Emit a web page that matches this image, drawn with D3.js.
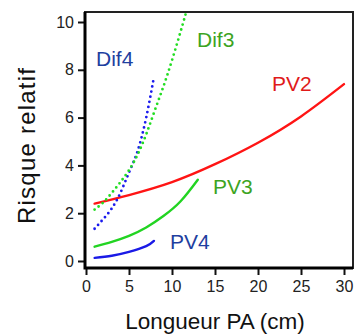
<!DOCTYPE html>
<html>
<head>
<meta charset="utf-8">
<script src="https://cdn.jsdelivr.net/npm/d3@7"></script>
<style>
  body { margin: 0; background: #fff; }
  text { font-family: 'Liberation Sans', Arial, sans-serif; }
</style>
</head>
<body>
<div id="chart"></div>
<script>
var width = 356, height = 334

// values: [longueur PA (cm), risque relatif]
var pv2 = [[1, 2.4], [5, 2.76], [10, 3.3], [15, 4.05], [20, 4.95], [25, 6.05], [30, 7.4]]
var pv3 = [[1, 0.6], [3, 0.8], [5, 1.05], [7, 1.4], [9, 1.88], [11, 2.5], [13, 3.4]]
var pv4 = [[1, 0.13], [3, 0.22], [5, 0.38], [7, 0.62], [7.9, 0.84]]
var dif4 = [[1, 1.35], [2, 1.75], [3, 2.2], [4, 2.85], [5, 3.7], [6, 4.6], [7, 6.0], [7.9, 7.7]]
var dif3 = [[1, 2.15], [2, 2.45], [3, 2.85], [4, 3.3], [5, 3.8], [6, 4.45], [7, 5.3], [8, 6.3], [9, 7.3], [10, 8.4], [11, 9.6], [11.6, 10.35]]

var xTicks = [0, 5, 10, 15, 20, 25, 30]
var yTicks = [0, 2, 4, 6, 8, 10]

var series = [
    { name: 'PV2', data: pv2, color: '#ff1414', text: '#e01a1a', dotted: false, lx: 272, ly: 91 },
    { name: 'PV3', data: pv3, color: '#22d422', text: '#3da41f', dotted: false, lx: 213, ly: 194 },
    { name: 'PV4', data: pv4, color: '#1a1ae6', text: '#1f3fa0', dotted: false, lx: 170, ly: 249 },
    { name: 'Dif4', data: dif4, color: '#1a1aee', text: '#1f3fa0', dotted: true, lx: 96, ly: 66 },
    { name: 'Dif3', data: dif3, color: '#22dd22', text: '#3da41f', dotted: true, lx: 197, ly: 47 }
]

var x = d3.scaleLinear().domain([0, 30]).range([86, 344])
var y = d3.scaleLinear().domain([0, 10]).range([261, 22])

var frame = { left: 85, right: 353, top: 12, bottom: 268 }

var svg = d3.select('#chart').append('svg')
    .attr('width', width)
    .attr('height', height)

// axes
svg.append('g')
    .attr('transform', 'translate(' + frame.left + ',0)')
    .call(d3.axisLeft(y).tickValues(yTicks).tickSize(7).tickPadding(4))
    .call(function(g) {
        g.select('.domain').remove()
        g.selectAll('.tick line').attr('stroke', '#111').attr('stroke-width', 2)
        g.selectAll('.tick text').attr('font-size', 16).attr('fill', '#222')
            .attr('font-family', "'Liberation Sans', Arial, sans-serif")
    })

svg.append('g')
    .attr('transform', 'translate(0,' + frame.bottom + ')')
    .call(d3.axisBottom(x).tickValues(xTicks).tickSize(7).tickPadding(6))
    .call(function(g) {
        g.select('.domain').remove()
        g.selectAll('.tick line').attr('stroke', '#111').attr('stroke-width', 2)
        g.selectAll('.tick text').attr('font-size', 16).attr('fill', '#222')
            .attr('font-family', "'Liberation Sans', Arial, sans-serif")
    })

// frame
svg.append('rect')
    .attr('x', frame.left)
    .attr('y', frame.top)
    .attr('width', frame.right - frame.left)
    .attr('height', frame.bottom - frame.top)
    .attr('fill', 'none')
    .attr('stroke', '#222')
    .attr('stroke-width', 2)

svg.append('path')
    .attr('d', 'M' + frame.left + ',' + frame.top + 'V' + frame.bottom + 'H' + frame.right)
    .attr('fill', 'none')
    .attr('stroke', '#000')
    .attr('stroke-width', 3)

// curves
var line = d3.line()
    .x(function(d) { return x(d[0]) })
    .y(function(d) { return y(d[1]) })
    .curve(d3.curveNatural)

svg.selectAll('.curve')
    .data(series)
    .enter().append('path')
    .attr('class', 'curve')
    .attr('d', function(d) { return line(d.data) })
    .attr('fill', 'none')
    .attr('stroke', function(d) { return d.color })
    .attr('stroke-width', function(d) { return d.dotted ? 2.8 : 2.4 })
    .attr('stroke-linecap', 'round')
    .attr('stroke-dasharray', function(d) { return d.dotted ? '0,5.2' : null })

// curve labels
svg.selectAll('.lbl')
    .data(series)
    .enter().append('text')
    .attr('class', 'lbl')
    .attr('x', function(d) { return d.lx })
    .attr('y', function(d) { return d.ly })
    .attr('font-size', 21)
    .attr('fill', function(d) { return d.text })
    .text(function(d) { return d.name })

// axis titles
svg.append('text')
    .attr('x', (117 + 313) / 2)
    .attr('y', 329)
    .attr('text-anchor', 'middle')
    .attr('font-size', 22.5)
    .attr('fill', '#111')
    .text('Longueur PA (cm)')

svg.append('text')
    .attr('transform', 'translate(35,146) rotate(-90)')
    .attr('text-anchor', 'middle')
    .attr('font-size', 24)
    .attr('textLength', 156)
    .attr('lengthAdjust', 'spacing')
    .attr('fill', '#111')
    .text('Risque relatif')
</script>
</body>
</html>
